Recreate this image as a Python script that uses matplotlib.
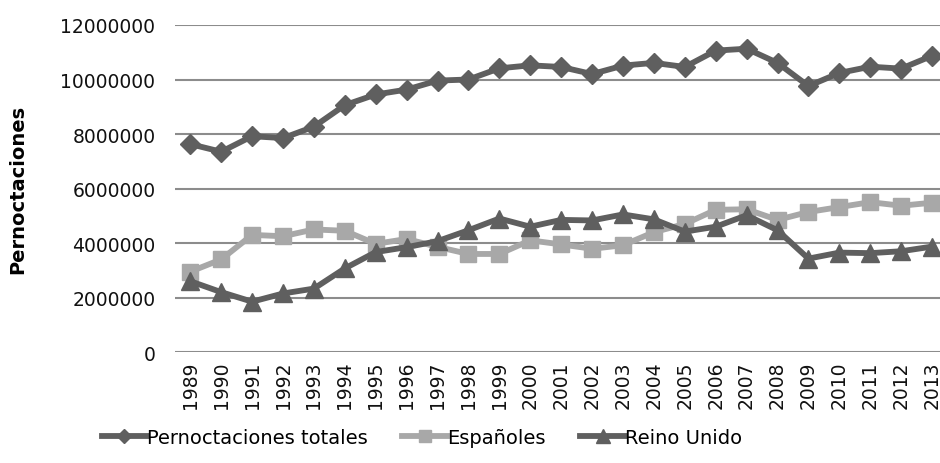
import numpy as np
import matplotlib.pyplot as plt

years = [str(y) for y in range(1989, 2014)]
totales = [7.63e6, 7.35e6, 7.92e6, 7.85e6, 8.27e6, 9.06e6, 9.45e6, 9.63e6, 9.96e6, 10.0e6,
           10.41e6, 10.52e6, 10.46e6, 10.2e6, 10.51e6, 10.61e6, 10.46e6, 11.06e6, 11.13e6, 10.61e6,
           9.76e6, 10.24e6, 10.47e6, 10.4e6, 10.87e6]
espanoles = [2.95e6, 3.4e6, 4.3e6, 4.25e6, 4.5e6, 4.45e6, 3.97e6, 4.15e6, 3.86e6, 3.6e6,
             3.6e6, 4.1e6, 3.95e6, 3.79e6, 3.92e6, 4.4e6, 4.7e6, 5.22e6, 5.24e6, 4.85e6,
             5.14e6, 5.32e6, 5.5e6, 5.37e6, 5.48e6]
reino_unido = [2.6e6, 2.2e6, 1.85e6, 2.15e6, 2.33e6, 3.07e6, 3.67e6, 3.85e6, 4.07e6, 4.47e6,
               4.9e6, 4.6e6, 4.85e6, 4.83e6, 5.05e6, 4.87e6, 4.42e6, 4.6e6, 5.02e6, 4.47e6,
               3.43e6, 3.65e6, 3.63e6, 3.7e6, 3.87e6]

dark = '#5f5f5f'
light = '#a8a8a8'

fig = plt.figure(figsize=(9.4, 4.64), dpi=100)
ax = fig.add_axes([0.186, 0.239, 0.822, 0.705])

x = np.arange(len(years))
ax.plot(x, totales, color=dark, lw=4.2, marker='D', ms=10, label='Pernoctaciones totales', zorder=3)
ax.plot(x, espanoles, color=light, lw=4.2, marker='s', ms=12, label='Españoles', zorder=3)
ax.plot(x, reino_unido, color=dark, lw=4.2, marker='^', ms=13, label='Reino Unido', zorder=4)

ax.set_xlim(-0.5, len(years) - 0.5)
ax.set_ylim(0, 12000000)
ax.set_yticks(np.arange(0, 12000001, 2000000))
ax.set_yticklabels([str(v) for v in range(0, 12000001, 2000000)])
ax.set_xticks(x)
ax.set_xticklabels(years, rotation=90)
ax.tick_params(length=0, labelsize=13.5, colors='#111111')
ax.tick_params(axis='y', pad=14)
ax.tick_params(axis='x', pad=6)
ax.yaxis.grid(True, color='#8c8c8c', lw=1.5)
ax.set_axisbelow(True)
for s in ax.spines.values():
    s.set_visible(False)
ax.set_ylabel('Pernoctaciones', fontsize=14, fontweight='bold', labelpad=24)

fig.legend(loc='center', bbox_to_anchor=(0.449, 0.056), ncol=3, frameon=False,
           fontsize=14, handlelength=2.3, columnspacing=1.8, handletextpad=0.0,
           markerscale=0.75)

fig.savefig('out.png', dpi=100)
